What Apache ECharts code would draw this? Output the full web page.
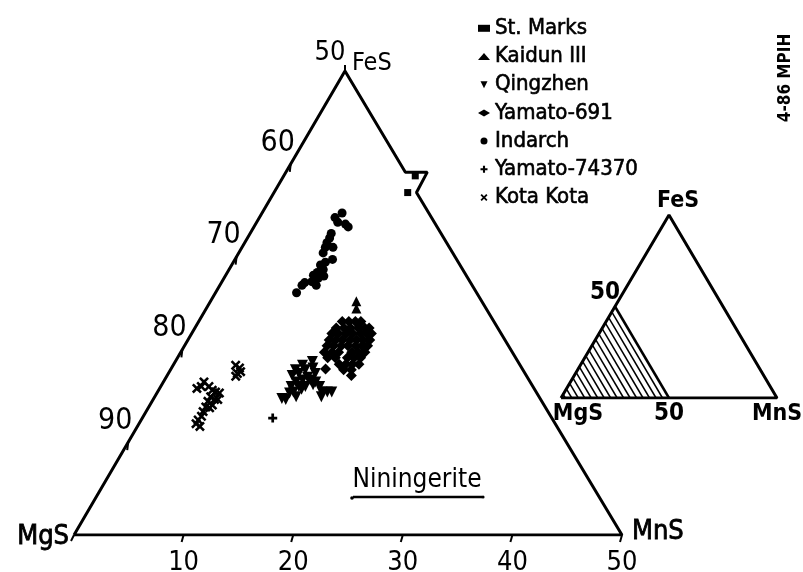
<!DOCTYPE html>
<html><head><meta charset="utf-8">
<script src="https://cdn.jsdelivr.net/npm/echarts@6/dist/echarts.min.js"></script>
<style>html,body{margin:0;padding:0;background:#fff}#c{width:803px;height:572px}</style>
</head><body><div id="c"></div>
<script>
// ---- data: composition points [FeS mol%, MnS mol%] (MgS = 100 - FeS - MnS)
const stMarks = [[36.9,12.2],[38.7,12.0]];
const kaidun = [[25.2,13.3],[24.4,13.7]];
const qingzhen = [[18.7,12.5],[18.3,11.8],[17.8,11.4],[17.2,11.4],[17.4,11.9],[17.8,12.3],[18.0,12.9],[17.4,13.4],[16.7,13.3],[16.7,12.6],[16.5,12.1],[16.0,11.9],[15.4,12.4],[15.3,12.1],[16.0,12.6],[16.0,13.2],[16.2,13.8],[16.5,13.9],[16.0,14.5],[15.4,15.0],[15.4,15.5],[15.4,15.9],[14.9,15.2],[14.6,12.1],[14.7,11.7],[14.9,12.9],[17.0,12.9],[15.7,13.0]];
const yamato691 = [[23.0,13.1],[23.0,13.7],[23.0,14.3],[23.0,14.8],[22.3,12.9],[22.3,13.6],[22.3,14.2],[22.3,14.9],[22.3,15.5],[22.3,15.9],[21.7,12.8],[21.7,13.4],[21.7,14.1],[21.7,14.7],[21.7,15.4],[21.7,16.0],[21.7,16.4],[21.0,12.9],[21.0,13.5],[21.0,14.1],[21.0,14.8],[21.0,15.4],[21.0,16.0],[21.0,16.6],[20.4,13.0],[20.4,13.6],[20.4,14.3],[20.4,14.9],[20.4,15.6],[20.4,16.2],[20.4,16.7],[19.7,13.1],[19.7,13.8],[19.7,14.4],[19.7,15.6],[19.7,16.2],[19.7,16.8],[19.1,13.7],[19.1,14.4],[19.1,15.5],[19.1,16.1],[19.1,16.7],[18.4,15.1],[18.4,15.7],[18.4,16.3],[18.4,16.9],[17.8,15.8],[17.8,16.5],[17.2,16.8],[17.9,14.1]];
const indarch = [[34.7,7.3],[34.2,6.9],[33.7,7.4],[33.5,8.2],[33.2,8.6],[32.5,7.4],[32.0,7.5],[31.5,7.5],[31.0,7.6],[31.0,8.3],[30.4,7.7],[29.7,8.9],[29.1,8.1],[28.6,8.6],[28.3,8.2],[27.7,8.6],[28.0,8.0],[27.3,8.2],[26.9,8.8],[26.9,7.5],[26.1,7.4],[27.2,7.6],[28.8,8.4],[29.4,8.4],[27.9,9.0]];
const yamato74370 = [[12.6,11.9]];
const kotaKota = [[16.5,3.7],[16.0,3.7],[15.8,3.4],[16.0,4.4],[15.6,4.9],[15.4,5.3],[15.3,5.7],[14.9,5.1],[14.6,5.6],[14.4,5.1],[13.8,5.2],[13.7,5.6],[13.3,5.2],[12.8,5.3],[12.4,5.2],[12.0,5.2],[11.7,5.7],[14.0,5.7],[14.6,5.9],[18.3,5.7],[18.0,6.2],[17.4,6.3],[17.6,6.5],[17.1,6.3]];

const seriesNames = ['St. Marks','Kaidun III','Qingzhen','Yamato-691','Indarch','Yamato-74370','Kota Kota'];
const seriesData = [stMarks, kaidun, qingzhen, yamato691, indarch, yamato74370, kotaKota];

// axis tick labels
const bottomTicks = [10,20,30,40,50];        // MnS mol%
const leftTicks = [60,70,80,90];             // MgS mol% along MgS-FeS edge
const apexLabel = '50';
// triangle outline in [FeS, MnS] (with notch around St. Marks)
const outline = [[0,0],[50,0],[39.1,10.9],[39.1,12.9],[36.9,13.0],[0,50],[0,0]];

const FONT = '"Liberation Sans Narrow","DejaVu Sans Condensed","Roboto Condensed","Liberation Sans",sans-serif';
const SHEAR = 0.4945;
function xy(p){ return [p[1] + p[0]*SHEAR, p[0]]; }
function xyFull(fes, mns){ return [mns + fes*0.5, fes]; }

const symbols = [
  'rect','triangle','path://M0,0 L10,0 L5,10 Z','diamond','circle',
  'path://M3.5,0 H6.5 V3.5 H10 V6.5 H6.5 V10 H3.5 V6.5 H0 V3.5 H3.5 Z',
  'path://M1.8,0 L5,3.2 L8.2,0 L10,1.8 L6.8,5 L10,8.2 L8.2,10 L5,6.8 L1.8,10 L0,8.2 L3.2,5 L0,1.8 Z'
];
const sizes = [7,10,11,11,9,9,10];

const chart = echarts.init(document.getElementById('c'));
const series = seriesNames.map((n,i)=>({
  name:n, type:'scatter', xAxisIndex:0, yAxisIndex:0, symbol:symbols[i], symbolSize:sizes[i],
  itemStyle:{color:'#000', opacity:1}, z:5, data: seriesData[i].map(xy)
}));
series.push({type:'line', xAxisIndex:0, yAxisIndex:0, data: outline.map(xy), symbol:'none',
  lineStyle:{color:'#000', width:3}, z:3, silent:true});

// inset
const hatch = [];
for (let m = 53; m < 100; m += 3) {
  hatch.push({coords:[xyFull(100-m,0), xyFull(0,100-m)]});
}
series.push({type:'lines', coordinateSystem:'cartesian2d', xAxisIndex:1, yAxisIndex:1, data:hatch,
  lineStyle:{color:'#000', width:1.5, opacity:1}, silent:true});
series.push({type:'line', xAxisIndex:1, yAxisIndex:1, symbol:'none', silent:true,
  data:[xyFull(0,0),xyFull(100,0),xyFull(0,100),xyFull(0,0)], lineStyle:{color:'#000', width:3}});
series.push({type:'line', xAxisIndex:1, yAxisIndex:1, symbol:'none', silent:true,
  data:[xyFull(50,0),xyFull(0,50)], lineStyle:{color:'#000', width:2.5}});

chart.setOption({
  animation:false,
  backgroundColor:'#fff',
  grid:[{left:74, top:71, width:548, height:464},{left:561, top:215, width:216, height:183}],
  xAxis:[{type:'value', min:0, max:50, show:false, gridIndex:0},{type:'value', min:0, max:100, show:false, gridIndex:1}],
  yAxis:[{type:'value', min:0, max:50, show:false, gridIndex:0},{type:'value', min:0, max:100, show:false, gridIndex:1}],
  legend:{orient:'vertical', left:473, top:12, itemWidth:12, itemHeight:7, itemGap:5.6, selectedMode:false,
    textStyle:{fontFamily:FONT, fontSize:22, lineHeight:22, color:'#000', fontWeight:'normal', textBorderColor:'#000', textBorderWidth:0.6},
    data: seriesNames.map((n,i)=>({name:n, icon:symbols[i], itemStyle:{color:'#000', opacity:1}}))},
  series
});

// labels & ticks via the library's coordinate conversion
const g = [];
function px(p, idx){ return chart.convertToPixel({gridIndex:idx||0}, p); }
function txt(text, x, y, size, align, weight, extra){
  return Object.assign({type:'text', x:x, y:y, style:{text:text, fontFamily:FONT, fontSize:size, fill:'#000',
    textAlign:align||'center', textVerticalAlign:'middle', fontWeight:weight||'normal'}, z:10}, extra||{});
}
bottomTicks.forEach(v=>{
  const p = px(xy([0,v]));
  g.push({type:'line', shape:{x1:p[0], y1:p[1], x2:p[0]-2, y2:p[1]+7}, style:{stroke:'#000', lineWidth:2}});
  g.push(txt(String(v), p[0], p[1]+28, 27));
});
leftTicks.forEach(v=>{
  const p = px(xy([100-v,0]));
  g.push({type:'line', shape:{x1:p[0], y1:p[1], x2:p[0]-1, y2:p[1]+8}, style:{stroke:'#000', lineWidth:2}});
  g.push(txt(String(v), p[0]-13, p[1]-21, 30));
});
const apex = px(xy([50,0]));
g.push({type:'line', shape:{x1:apex[0], y1:apex[1], x2:apex[0], y2:apex[1]-6}, style:{stroke:'#000', lineWidth:2}});
g.push(txt(apexLabel, apex[0]-15, apex[1]-18, 27));
g.push(txt('FeS', apex[0]+7, apex[1]-8, 25, 'left'));
const o = px(xy([0,0]));
g.push({type:'line', shape:{x1:o[0], y1:o[1], x2:o[0]-3, y2:o[1]+6}, style:{stroke:'#000', lineWidth:2}});
g.push(txt('MgS', o[0]-5, o[1]+2, 27, 'right', 'normal', {style:{text:'MgS', fontFamily:FONT, fontSize:27, fill:'#000', textAlign:'right', textVerticalAlign:'middle', stroke:'#000', lineWidth:0.8}}));
const mn = px(xy([0,50]));
g.push(txt('MnS', mn[0]+10, mn[1]-3, 27, 'left', 'normal', {style:{text:'MnS', fontFamily:FONT, fontSize:27, fill:'#000', textAlign:'left', textVerticalAlign:'middle', stroke:'#000', lineWidth:0.8}}));
g.push(txt('Niningerite', 417, 480, 26));
g.push({type:'line', shape:{x1:353, y1:497, x2:482, y2:497}, style:{stroke:'#000', lineWidth:2.5}});
g.push({type:'circle', shape:{cx:352, cy:498, r:1.8}, style:{fill:'#000'}});
g.push({type:'circle', shape:{cx:483, cy:497, r:1.6}, style:{fill:'#000'}});
g.push(txt('4-86 MPIH', 786, 78, 17, 'center', 'bold', {rotation:Math.PI/2}));
// inset labels
const iA = px(xyFull(100,0),1), iL = px(xyFull(0,0),1), iR = px(xyFull(0,100),1), iM = px(xyFull(50,0),1), iB = px(xyFull(0,50),1);
g.push(txt('FeS', iA[0]+9, iA[1]-14, 23, 'center', 'bold'));
g.push(txt('50', iM[0]-10, iM[1]-14, 24, 'center', 'bold'));
g.push(txt('MgS', iL[0]+17, iL[1]+16, 23, 'center', 'bold'));
g.push(txt('50', iB[0], iB[1]+16, 24, 'center', 'bold'));
g.push(txt('MnS', iR[0], iR[1]+16, 23, 'center', 'bold'));
chart.setOption({graphic:g});
</script></body></html>
